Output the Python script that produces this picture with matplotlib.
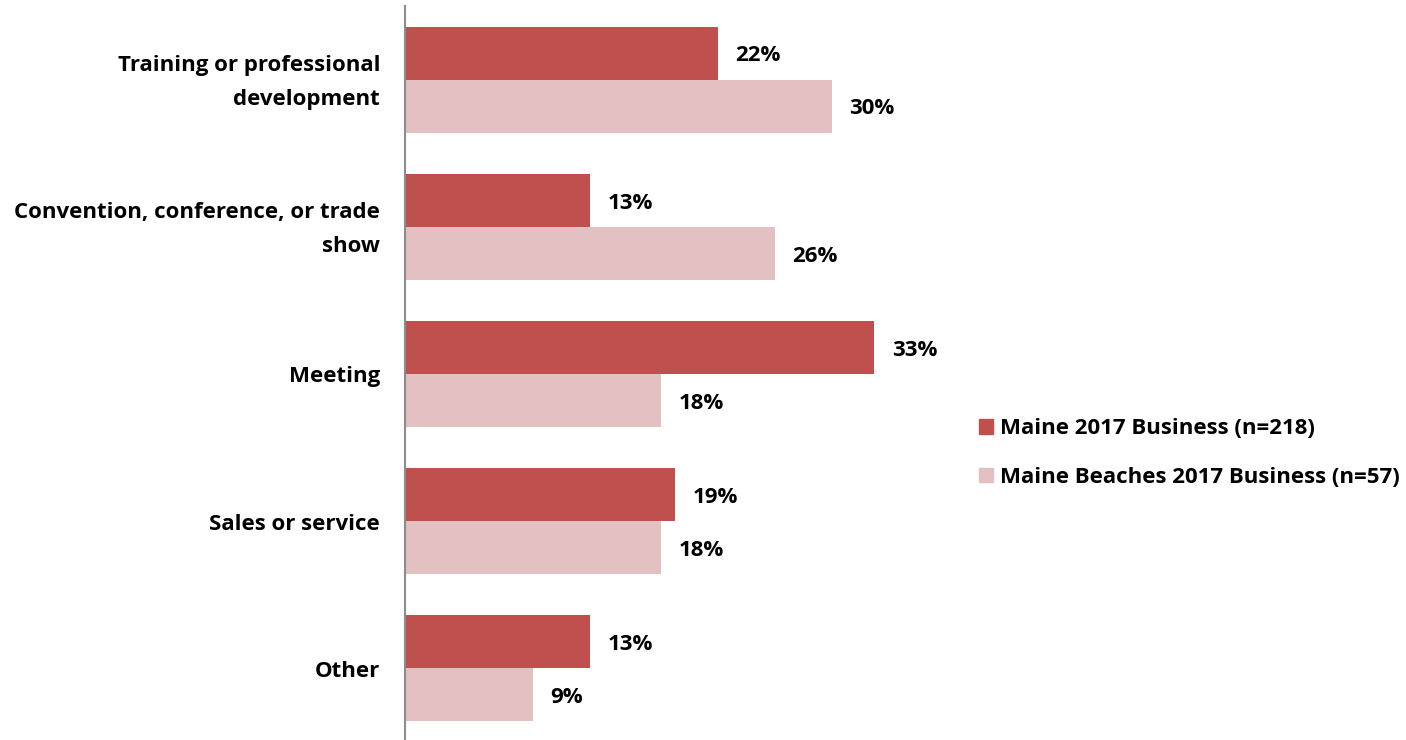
import matplotlib
matplotlib.use('Agg')
import matplotlib.pyplot as plt
import matplotlib.transforms as mtransforms
import numpy as np
from matplotlib.patches import Patch

plt.rcParams['font.family'] = ['Open Sans', 'DejaVu Sans']
plt.rcParams['font.weight'] = 'bold'

categories = ['Training or professional\ndevelopment',
              'Convention, conference, or trade\nshow',
              'Meeting',
              'Sales or service',
              'Other']
maine = [22, 13, 33, 19, 13]
beaches = [30, 26, 18, 18, 9]
series_names = ['Maine 2017 Business (n=218)', 'Maine Beaches 2017 Business (n=57)']

red = '#C0504D'
pink = '#E3C1C3'
fs = 16

fig = plt.figure(figsize=(14.06, 7.4), dpi=100)
ax = fig.add_axes([405 / 1406, 1 - 742 / 740, 569 / 1406, 736 / 740])

y = np.arange(len(categories))
h = 0.36
b1 = ax.barh(y - h / 2, maine, height=h, color=red)
b2 = ax.barh(y + h / 2, beaches, height=h, color=pink)

for bars, vals in [(b1, maine), (b2, beaches)]:
    for bar, v in zip(bars, vals):
        ax.annotate('%d%%' % v, (bar.get_width(), bar.get_y() + bar.get_height() / 2),
                    xytext=(12.5, -2), textcoords='offset points',
                    ha='left', va='center', fontsize=fs, fontweight='bold')

ax.set_xlim(0, 40)
ax.set_ylim(len(categories) - 0.5, -0.5)
ax.set_yticks(y)
ax.set_yticklabels(categories, fontsize=fs, fontweight='bold', linespacing=1.8,
                   ha='right', va='center')
ax.tick_params(axis='y', length=0, pad=18)
ax.set_xticks([])

# nudge category labels down a little
shift = mtransforms.ScaledTranslation(0, -3 / 100, fig.dpi_scale_trans)
for lbl in ax.get_yticklabels():
    lbl.set_transform(lbl.get_transform() + shift)

for s in ['top', 'right', 'bottom']:
    ax.spines[s].set_visible(False)
ax.spines['left'].set_color('#8c8c8c')
ax.spines['left'].set_linewidth(1.5)

handles = [Patch(color=red), Patch(color=pink)]
fig.legend(handles, series_names, loc='center left', bbox_to_anchor=(959 / 1406, 1 - 453 / 740),
           frameon=False, handlelength=0.65, handleheight=0.65,
           handletextpad=0.3, labelspacing=1.25, prop={'weight': 'bold', 'size': fs})

fig.savefig('out.png', dpi=100)
